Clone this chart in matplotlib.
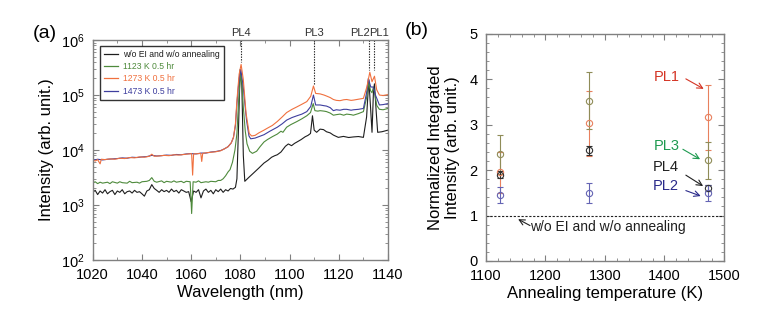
import matplotlib
matplotlib.use("Agg")
import matplotlib.pyplot as plt
from matplotlib.ticker import MultipleLocator, LogLocator, NullFormatter
from matplotlib.lines import Line2D

plt.rcParams['font.family'] = ['Liberation Sans', 'DejaVu Sans']

# ---------------- (a) PL spectra ----------------
# reference sample (no EI, no annealing)
black_base_wl = list(range(1020, 1079))
black_base = [1700, 1850, 1550, 1800, 1650, 1900, 1600, 1750, 1850, 1550,
              1800, 1700, 1900, 1600, 1750, 1800, 1650, 1850, 1700, 1750,
              1600, 1450, 1800, 1900, 2350, 2000, 1850, 1700, 1900, 1750,
              1850, 1700, 1950, 1750, 1850, 1650, 1900, 1800, 1700, 1750,
              1150, 1800, 1700, 1900, 1350, 1800, 1950, 1700, 1850, 1600,
              1900, 1750, 1950, 1700, 1900, 1800, 2000, 1950, 2100]
black_tail_wl = [1078.6, 1079.3, 1079.9, 1080.6, 1081.2, 1081.8, 1083.5, 1085.3,
                 1087.5, 1089.6, 1091.2, 1092.7, 1094, 1095, 1096.5, 1098.3, 1099.5,
                 1100.8, 1102, 1103, 1104.7, 1106.3, 1107.5, 1108.5, 1109.3, 1110,
                 1111, 1112.4, 1113.8, 1115, 1116.5, 1117.8, 1119.8, 1121.9, 1124,
                 1125.9, 1128, 1130, 1131.3, 1132.2, 1132.9, 1133.5, 1134.1, 1134.5,
                 1135.2, 1135.8, 1137.5, 1140]
black_tail = [3000, 30000, 290000, 150000, 8000, 2700, 3200, 3800,
              4700, 5800, 6500, 7400, 7900, 8200, 9200, 11700, 12900,
              12000, 13200, 14000, 15500, 17400, 18500, 20000, 42000, 23000,
              21000, 24000, 23500, 21500, 20500, 18700, 17000, 17700, 16900,
              17300, 17600, 17000, 40000, 190000, 60000, 21000, 120000, 160000,
              50000, 21000, 21500, 23000]
wl_ref = black_base_wl + black_tail_wl
int_ref = black_base + black_tail

# 1123 K 0.5 hr
wl_1123 = [1020, 1021, 1022, 1023, 1024, 1026, 1027, 1028, 1030, 1031, 1032, 1034,
           1035, 1036, 1038, 1039, 1040, 1042, 1043, 1044, 1045, 1046, 1048, 1049,
           1050, 1052, 1053, 1054, 1056, 1057, 1058, 1059.6, 1060.2, 1060.8, 1062,
           1063, 1064, 1066, 1067, 1068, 1070, 1071, 1072, 1073, 1074, 1075, 1075.8,
           1076.8, 1077.8, 1078.6, 1079.3, 1080.1, 1080.7, 1081.2, 1082, 1082.7,
           1083.8, 1084.9, 1086.6, 1088, 1089.6, 1091, 1093, 1095, 1096.5, 1097.3,
           1098.8, 1100.5, 1103, 1105, 1107, 1108.5, 1109.6, 1110.3, 1111.5, 1112.4,
           1114, 1115, 1116.5, 1117.8, 1119, 1120.5, 1122, 1123.2, 1125, 1125.9,
           1128, 1130, 1131.3, 1132.2, 1132.9, 1133.5, 1134.1, 1134.7, 1135.4,
           1136.5, 1138, 1140]
int_1123 = [2500, 2650, 2450, 2600, 2500, 2600, 2450, 2650, 2500, 2650, 2550, 2500,
            2700, 2550, 2600, 2500, 2650, 2700, 2800, 3150, 2700, 2600, 2750, 2550,
            2700, 2600, 2750, 2600, 2700, 2550, 2700, 2650, 700, 2650, 2600,
            2750, 2550, 2650, 2600, 2700, 2650, 2800, 2800, 3000, 3400, 4000, 4400,
            6000, 10000, 20000, 80000, 250000, 150000, 60000, 22000, 13000,
            9500, 8700, 9500, 11500, 14000, 15500, 17500, 19500, 22000, 21000,
            26000, 29000, 33000, 37000, 42000, 48000, 70000, 52000, 51000, 52000,
            51000, 50000, 47000, 43000, 44000, 45000, 43000, 45000, 44000, 43000,
            46000, 50000, 90000, 170000, 120000, 110000, 140000, 100000, 65000,
            55000, 54000, 57000]

# 1273 K 0.5 hr
wl_1273 = [1020, 1021, 1022, 1023, 1023.5, 1025, 1027, 1029, 1031, 1033, 1035, 1037,
           1039, 1041, 1043, 1044, 1045, 1047, 1049, 1051, 1053, 1055, 1057, 1059,
           1060.2, 1060.6, 1061, 1063, 1063.9, 1064.3, 1064.7, 1066, 1068, 1070,
           1072, 1073.5, 1075, 1076.3, 1077.2, 1078, 1078.6, 1079.5, 1080.3, 1081.2,
           1082.3, 1083.6, 1084.6, 1086, 1087.5, 1089.6, 1091, 1093, 1095, 1097,
           1098.8, 1101, 1103, 1105, 1107, 1108.6, 1109.7, 1110.6, 1112.4, 1114,
           1115, 1116.5, 1117.8, 1119, 1120.5, 1122, 1123.2, 1125, 1126, 1128, 1130,
           1131.4, 1132.6, 1133.5, 1134.5, 1135.4, 1136.5, 1138, 1140]
int_1273 = [6600, 6300, 6700, 5600, 6800, 6700, 6900, 6800, 7100, 7000, 7300, 7200,
            7500, 7400, 7700, 8400, 7700, 7800, 8000, 7900, 8200, 8100, 8300, 8500,
            8600, 3500, 8500, 8600, 8700, 6200, 8700, 8900, 9100, 9300,
            9700, 10500, 11500, 13500, 17000, 30000, 80000, 240000, 360000, 190000,
            47000, 20000, 18000, 18500, 20500, 23000, 25000, 28000, 33000, 40000,
            48000, 55000, 61000, 68000, 76000, 95000, 146000, 107000, 105000, 100000,
            96000, 90000, 83000, 80000, 79000, 82000, 83000, 80000, 81000, 84000, 87000,
            140000, 260000, 175000, 220000, 125000, 100000, 98000, 102000]

# 1473 K 0.5 hr
wl_1473 = [1020, 1022, 1024, 1026, 1028, 1030, 1032, 1034, 1036, 1038, 1040, 1042,
           1044, 1046, 1048, 1050, 1052, 1054, 1056, 1058, 1060, 1062, 1064, 1066,
           1068, 1070, 1072, 1073.5, 1075, 1076.3, 1077.2, 1078, 1078.6, 1079.5,
           1080.2, 1081.1, 1082.5, 1083.5, 1084.2, 1086, 1087.5, 1089.6, 1092, 1095,
           1097, 1098.8, 1101, 1103, 1105, 1107, 1108.6, 1109.7, 1110.6, 1112.4,
           1114, 1115, 1116.5, 1117.8, 1119, 1120.5, 1122, 1123.2, 1125, 1126, 1128,
           1130, 1131.3, 1132, 1133, 1134, 1134.9, 1136.5, 1138, 1140]
int_1473 = [6500, 6800, 6600, 6800, 6900, 7000, 7200, 7100, 7400, 7300, 7500, 7600,
            8000, 7800, 7900, 8100, 8000, 8300, 8200, 8500, 8600, 8500, 8800, 8800,
            9200, 9400, 9800, 10500, 11500, 13500, 17000, 28000, 70000, 200000,
            290000, 150000, 35000, 18000, 16000, 16500, 17500, 19000, 22000, 26000,
            30000, 35000, 39000, 42000, 45000, 50000, 62000, 100000, 66000, 66000,
            64000, 63000, 59000, 52000, 54000, 53000, 55000, 55000, 53000, 54000, 55000,
            57000, 110000, 200000, 140000, 140000, 100000, 66000, 67000, 70000]

series_labels = ["w/o EI and w/o annealing", "1123 K 0.5 hr", "1273 K 0.5 hr", "1473 K 0.5 hr"]
series_colors = ["#1e1e1e", "#4e8a3c", "#f0703e", "#3e3e9e"]

# peak positions (nm) marked above the spectra, with the height of the dotted guide
peak_names = ["PL4", "PL3", "PL2", "PL1"]
peak_wl = [1080.3, 1109.8, 1132.3, 1134.5]
peak_guide_bottom = [4.0e5, 1.6e5, 2.8e5, 2.8e5]
peak_label_wl = [1080.3, 1110.0, 1128.7, 1136.4]

# ---------------- (b) normalized integrated intensity ----------------
anneal_T = [1123, 1273, 1473]
pl1_val = [1.95, 3.03, 3.16]
pl1_err = [0.45, 0.72, 0.72]
pl3_val = [2.35, 3.53, 2.22]
pl3_err = [0.43, 0.63, 0.41]
pl4_val = [1.90, 2.44, 1.61]
pl4_err = [0.08, 0.10, 0.06]
pl2_val = [1.45, 1.49, 1.49]
pl2_err = [0.17, 0.22, 0.18]

frame_color = "#808080"

fig = plt.figure(figsize=(7.65, 3.23), dpi=100)
ax1 = fig.add_axes([0.1212, 0.195, 0.386, 0.681])
ax2 = fig.add_axes([0.6353, 0.192, 0.311, 0.703])

# ----- panel (a)
curves = [(wl_ref, int_ref), (wl_1123, int_1123), (wl_1473, int_1473), (wl_1273, int_1273)]
curve_colors = [series_colors[0], series_colors[1], series_colors[3], series_colors[2]]
for (x, y), c in zip(curves, curve_colors):
    ax1.plot(x, y, color=c, lw=0.8)

ax1.set_yscale("log")
ax1.set_xlim(1020, 1140)
ax1.set_ylim(1e2, 1e6)
ax1.xaxis.set_major_locator(MultipleLocator(20))
ax1.xaxis.set_minor_locator(MultipleLocator(10))
ax1.yaxis.set_major_locator(LogLocator(base=10, numticks=10))
ax1.yaxis.set_minor_locator(LogLocator(base=10, subs=range(2, 10), numticks=20))
ax1.yaxis.set_minor_formatter(NullFormatter())
ax1.set_xlabel("Wavelength (nm)", fontsize=12, labelpad=2)
ax1.set_ylabel("Intensity (arb. unit.)", fontsize=12, labelpad=5)

for wl, bot, name, lx in zip(peak_wl, peak_guide_bottom, peak_names, peak_label_wl):
    ax1.plot([wl, wl], [1e6, bot], ls=(0, (1.2, 1.2)), color="#202020", lw=0.8, clip_on=False)
    ax1.text(lx, 1.1e6, name, ha="center", va="bottom", fontsize=8, color="#303030")

handles = [Line2D([], [], color=c, lw=0.9) for c in series_colors]
leg = ax1.legend(handles, series_labels, loc="upper left", bbox_to_anchor=(0.025, 0.973),
                 borderaxespad=0, fontsize=6.2, frameon=True, fancybox=False,
                 edgecolor="black", handlelength=1.6, handletextpad=0.6, borderpad=0.45,
                 labelspacing=0.38, labelcolor=series_colors)
leg.get_frame().set_linewidth(1.0)

# ----- panel (b)
groups = [(pl1_val, pl1_err, "#e8805e"),
          (pl3_val, pl3_err, "#8f8c58"),
          (pl4_val, pl4_err, "#303030"),
          (pl2_val, pl2_err, "#6464b4")]
for v, e, c in groups:
    ax2.errorbar(anneal_T, v, yerr=e, fmt="o", mfc="none", mec=c, ecolor=c, ms=4.5,
                 mew=0.8, elinewidth=0.8, capsize=2.2, capthick=0.8)

ax2.axhline(1.0, color="#202020", lw=0.8, ls=(0, (2, 1.5)))
ax2.set_xlim(1100, 1500)
ax2.set_ylim(0, 5)
ax2.xaxis.set_major_locator(MultipleLocator(100))
ax2.xaxis.set_minor_locator(MultipleLocator(20))
ax2.yaxis.set_major_locator(MultipleLocator(1))
ax2.yaxis.set_minor_locator(MultipleLocator(0.2))
ax2.set_xlabel("Annealing temperature (K)", fontsize=12, labelpad=2)
ax2.set_ylabel("Normalized Integrated\nIntensity (arb. unit.)", fontsize=12, labelpad=7,
               linespacing=1.1)

arrow_kw = dict(arrowstyle="->", lw=0.8, shrinkA=0, shrinkB=0)
ax2.text(1404, 4.06, "PL1", color="#d43424", fontsize=10.5, ha="center", va="center")
ax2.annotate("", xy=(1466, 3.79), xytext=(1436, 4.01),
             arrowprops=dict(color="#d43424", **arrow_kw))
ax2.text(1404, 2.54, "PL3", color="#1e9a50", fontsize=10.5, ha="center", va="center")
ax2.annotate("", xy=(1460, 2.24), xytext=(1431, 2.46),
             arrowprops=dict(color="#1e9a50", **arrow_kw))
ax2.text(1402, 2.06, "PL4", color="#202020", fontsize=10.5, ha="center", va="center")
ax2.annotate("", xy=(1465, 1.65), xytext=(1436, 1.89),
             arrowprops=dict(color="#202020", **arrow_kw))
ax2.text(1402, 1.65, "PL2", color="#2a2a8a", fontsize=10.5, ha="center", va="center")
ax2.annotate("", xy=(1461, 1.43), xytext=(1436, 1.55),
             arrowprops=dict(color="#2a2a8a", **arrow_kw))
ax2.text(1174, 0.74, "w/o EI and w/o annealing", color="#202020", fontsize=10,
         ha="left", va="center")
ax2.annotate("", xy=(1154, 0.92), xytext=(1174, 0.78),
             arrowprops=dict(color="#202020", **arrow_kw))

for ax in (ax1, ax2):
    for sp in ax.spines.values():
        sp.set_color(frame_color)
        sp.set_linewidth(1.0)
    ax.tick_params(which="both", direction="in", top=True, right=True,
                   color=frame_color, labelsize=10.5)
    ax.tick_params(which="major", length=4, width=0.8)
    ax.tick_params(which="minor", length=2, width=0.6)
    ax.tick_params(axis="x", which="major", pad=6)
    ax.tick_params(axis="y", which="major", pad=6)

fig.text(0.058, 0.895, "(a)", fontsize=14, ha="center", va="center")
fig.text(0.545, 0.905, "(b)", fontsize=14, ha="center", va="center")

fig.savefig("out.png", dpi=100)
